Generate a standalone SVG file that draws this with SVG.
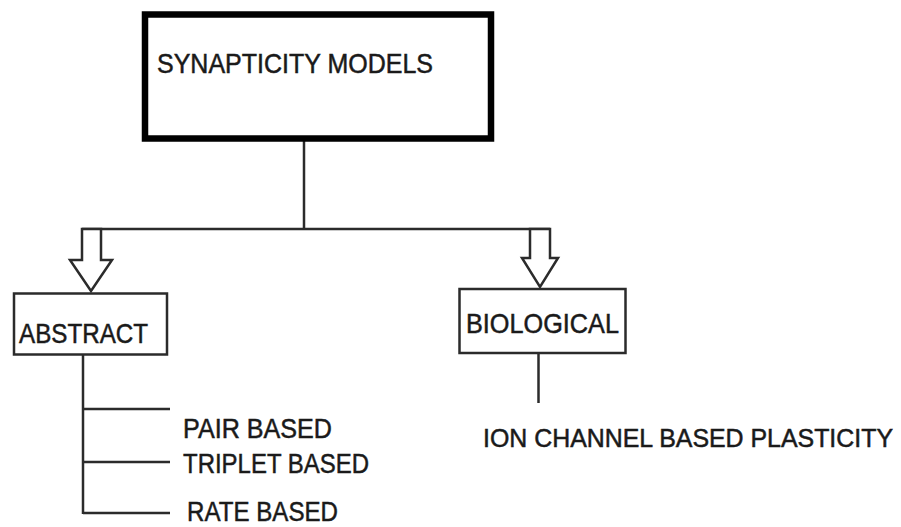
<svg xmlns="http://www.w3.org/2000/svg" width="901" height="527" viewBox="0 0 901 527">
<style>
.t{font-family:"Liberation Sans",Arial,sans-serif;font-size:27.5px;fill:#1a1a1a;stroke:#1a1a1a;stroke-width:0.5}
.ln{stroke:#2b2b2b;stroke-width:2.5;fill:none}
.box{stroke:#2b2b2b;stroke-width:2.5;fill:#fff}
.arr{stroke:#2b2b2b;stroke-width:2.5;fill:#fff;stroke-linejoin:miter}
</style>
<rect width="901" height="527" fill="#fff"/>
<g id="connectors">
<line class="ln" x1="304" y1="141" x2="304" y2="229"/>
<line class="ln" x1="82" y1="229" x2="550" y2="229"/>
<polygon class="arr" points="82,229 101,229 101,260 112,260 91,291 70,260 82,260"/>
<polygon class="arr" points="530,229 550,229 550,258 558,258 540,287 522,258 530,258"/>
<line class="ln" x1="83" y1="354" x2="83" y2="514"/>
<line class="ln" x1="83" y1="409" x2="170" y2="409"/>
<line class="ln" x1="83" y1="462" x2="170" y2="462"/>
<line class="ln" x1="83" y1="513" x2="170" y2="513"/>
<line class="ln" x1="538.5" y1="353" x2="538.5" y2="403"/>
</g>
<g id="synapticity">
<rect x="145" y="14.5" width="346" height="124" fill="#fff" stroke="#000" stroke-width="6.5"/>
<text class="t" x="157" y="73" textLength="276" lengthAdjust="spacingAndGlyphs">SYNAPTICITY MODELS</text>
</g>
<g id="abstract">
<rect class="box" x="14" y="293.5" width="153" height="61"/>
<text class="t" x="19" y="343" textLength="129" lengthAdjust="spacingAndGlyphs">ABSTRACT</text>
</g>
<g id="biological">
<rect class="box" x="459.5" y="289" width="166" height="64"/>
<text class="t" x="466" y="333" textLength="153" lengthAdjust="spacingAndGlyphs">BIOLOGICAL</text>
</g>
<g id="pair">
<text class="t" x="183" y="438" textLength="149" lengthAdjust="spacingAndGlyphs">PAIR BASED</text>
</g>
<g id="triplet">
<text class="t" x="183" y="473" textLength="186" lengthAdjust="spacingAndGlyphs">TRIPLET BASED</text>
</g>
<g id="rate">
<text class="t" x="187" y="521" textLength="151" lengthAdjust="spacingAndGlyphs">RATE BASED</text>
</g>
<g id="ion">
<text class="t" x="483" y="447" style="font-size:25px" textLength="410" lengthAdjust="spacingAndGlyphs">ION CHANNEL BASED PLASTICITY</text>
</g>
</svg>
